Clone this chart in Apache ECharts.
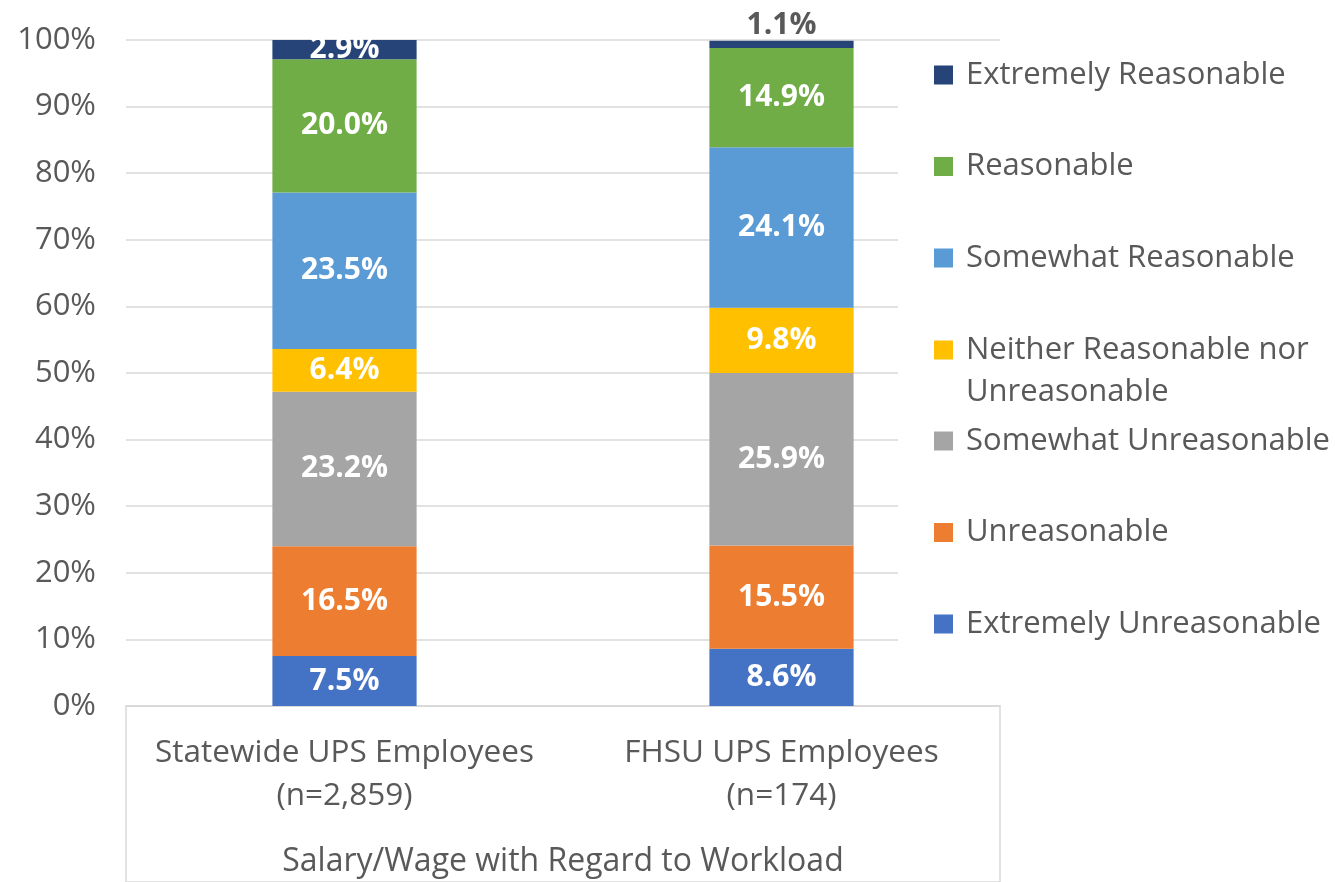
<!DOCTYPE html>
<html>
<head>
<meta charset="utf-8">
<script src="https://cdn.jsdelivr.net/npm/echarts@6/dist/echarts.min.js"></script>
<style>
  html, body { margin: 0; padding: 0; background: #fff; }
  #main { width: 1335px; height: 882px; }
</style>
</head>
<body>
<div id="main"></div>
<script>
// categories (bottom to top of each stack)
var groups = ["Statewide UPS Employees\n(n=2,859)", "FHSU UPS Employees\n(n=174)"];
var axisTitle = "Salary/Wage with Regard to Workload";
var answers = [
  "Extremely Unreasonable",
  "Unreasonable",
  "Somewhat Unreasonable",
  "Neither Reasonable nor Unreasonable",
  "Somewhat Reasonable",
  "Reasonable",
  "Extremely Reasonable"
];
// percent per answer
var statewide = [7.5, 16.5, 23.2, 6.4, 23.5, 20.0, 2.9];
var fhsu = [8.6, 15.5, 25.9, 9.8, 24.1, 14.9, 1.1];
var yTicks = [0, 10, 20, 30, 40, 50, 60, 70, 80, 90, 100];

var colors = ["#4472C4", "#ED7D31", "#A5A5A5", "#FFC000", "#5B9BD5", "#70AD47", "#264478"];
var font = "Open Sans";
var grey = "#595959";

var myChart = echarts.init(document.getElementById("main"));

var series = answers.map(function (name, i) {
  var vals = [statewide[i], fhsu[i]];
  return {
    name: name,
    type: "bar",
    stack: "total",
    barWidth: "33%",
    itemStyle: { color: colors[i] },
    label: {
      show: true,
      position: "inside",
      color: "#fff",
      fontFamily: font,
      fontWeight: "bold",
      fontSize: 30,
      formatter: function (p) {
        return p.value.toFixed(1) + "%";
      }
    },
    data: vals.map(function (v) {
      // tiny segments get their label above the bar, in grey
      if (v < 2) {
        return { value: v, label: { position: "top", color: grey, distance: 0 } };
      }
      return v;
    })
  };
});

var legendText = { fontFamily: font, fontSize: 31, color: grey, lineHeight: 42, padding: [0, 0, 0, 8] };
var legendBase = {
  orient: "vertical",
  left: 934,
  padding: 0,
  itemWidth: 19,
  itemHeight: 19,
  itemGap: 49.5,
  icon: "rect",
  textStyle: legendText
};

var option = {
  backgroundColor: "#fff",
  title: {
    text: axisTitle,
    left: 563,
    textAlign: "center",
    top: 846,
    padding: 0,
    textStyle: { fontFamily: font, fontSize: 32, fontWeight: "normal", color: grey }
  },
  legend: [
    Object.assign({}, legendBase, { top: 54, data: answers.slice(4).reverse() }),
    Object.assign({}, legendBase, {
      top: 287,
      data: [answers[3]],
      // empty first line keeps the marker level with the first text line
      formatter: function () { return "{e| }\n{a|Neither Reasonable nor}\n{a|Unreasonable}"; },
      textStyle: Object.assign({}, legendText, {
        rich: {
          e: { fontFamily: font, fontSize: 31, lineHeight: 42, color: grey },
          a: { fontFamily: font, fontSize: 31, lineHeight: 42, color: grey }
        }
      })
    }),
    Object.assign({}, legendBase, { top: 420, data: answers.slice(0, 3).reverse() })
  ],
  graphic: [
    {
      type: "rect",
      z: 3,
      shape: { x: 898, y: 50, width: 437, height: 640 },
      style: { fill: "#fff" },
      silent: true
    }
  ],
  grid: [
    { left: 126, right: 335, top: 40, bottom: 176 },
    {
      left: 126, right: 335, top: 706, bottom: -20,
      show: true, borderColor: "#d9d9d9", borderWidth: 1.5, backgroundColor: "transparent"
    }
  ],
  xAxis: [
    {
      type: "category",
      data: groups,
      axisTick: { show: false },
      axisLine: { lineStyle: { color: "#d9d9d9", width: 1.5 } },
      axisLabel: { interval: 0, fontFamily: font, fontSize: 31.5, color: grey, lineHeight: 43, margin: 26 }
    },
    { type: "category", gridIndex: 1, show: false, data: [axisTitle] }
  ],
  yAxis: [
    {
      type: "value",
      min: yTicks[0],
      max: yTicks[yTicks.length - 1],
      interval: 10,
      axisLine: { show: false },
      axisTick: { show: false },
      splitLine: { lineStyle: { color: "#d9d9d9", width: 1.5 } },
      axisLabel: { fontFamily: font, fontSize: 31, color: grey, margin: 30, formatter: "{value}%" }
    },
    { type: "value", gridIndex: 1, show: false }
  ],
  series: series
};

myChart.setOption(option);
</script>
</body>
</html>
